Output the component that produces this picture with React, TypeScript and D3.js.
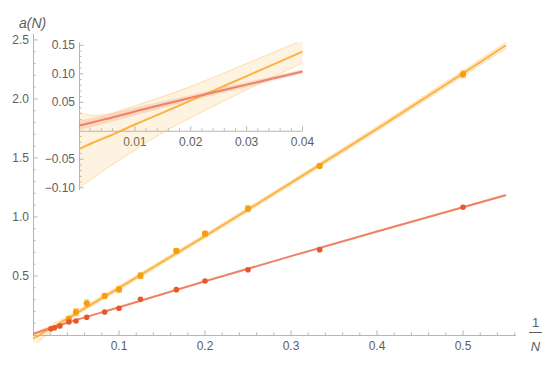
import React, { useEffect, useRef } from 'react'
import * as d3 from 'd3'

// data points, x = 1/N for N = 2, 3, 4, 5, 6, 8, 10, 12, 16, 20, 24, 32, 40, 48
const redX = [0.5, 0.3333, 0.25, 0.2, 0.1667, 0.125, 0.1, 0.0833, 0.0625, 0.05, 0.0417, 0.03125, 0.025, 0.0208]
const redY = [1.082, 0.723, 0.553, 0.458, 0.384, 0.302, 0.226, 0.195, 0.15, 0.119, 0.11, 0.076, 0.062, 0.053]

const orangeX = [0.5, 0.3333, 0.25, 0.2, 0.1667, 0.125, 0.1, 0.0833, 0.0625, 0.05, 0.0417]
const orangeY = [2.209, 1.432, 1.07, 0.858, 0.712, 0.503, 0.386, 0.331, 0.268, 0.194, 0.137]
const orangeErr = [0.03, 0.015, 0.025, 0.02, 0.02, 0.025, 0.025, 0.02, 0.03, 0.03, 0.02]

// fit curves and their bands at these x
const fitX = [0, 0.0025, 0.005, 0.01, 0.015, 0.02, 0.03, 0.04, 0.1, 0.2, 0.3, 0.4, 0.5, 0.55]
const orangeFit = [-0.032, -0.021, -0.011, 0.011, 0.032, 0.053, 0.096, 0.139, 0.399, 0.838, 1.288, 1.747, 2.216, 2.455]
const orangeLo = [-0.1, -0.083, -0.066, -0.034, -0.003, 0.023, 0.072, 0.119, 0.382, 0.822, 1.271, 1.728, 2.194, 2.43]
const orangeHi = [0.033, 0.027, 0.029, 0.044, 0.06, 0.078, 0.118, 0.159, 0.416, 0.854, 1.305, 1.766, 2.238, 2.48]
const redFit = [0.009, 0.015, 0.021, 0.034, 0.046, 0.058, 0.081, 0.104, 0.235, 0.455, 0.668, 0.877, 1.083, 1.185]
const redHalf = [0.0085, 0.008, 0.0075, 0.007, 0.006, 0.005, 0.0045, 0.004, 0.004, 0.005, 0.006, 0.008, 0.01, 0.012]

const mainXTicks = [0.1, 0.2, 0.3, 0.4, 0.5]
const mainYTicks = [0.5, 1.0, 1.5, 2.0, 2.5]
const insetXTicks = [0.01, 0.02, 0.03, 0.04]
const insetYTicks = [-0.1, -0.05, 0.05, 0.1, 0.15]

const ORANGE_PT = '#f59f0f'
const ORANGE_LN = '#fbb443'
const RED_PT = '#e8572c'
const RED_LN = '#ef8265'
const AXIS = '#b5b5b5'
const LABEL = '#5e5e5e'
const FONT = 'Liberation Sans, Arial, sans-serif'

type XY = [number, number]

function minorTicks(lo: number, hi: number, step: number, skip: number[]) {
  const out: number[] = []
  for (let v = lo; v <= hi + 1e-9; v += step) {
    const r = Math.round(v / step) * step
    if (!skip.some((s) => Math.abs(s - r) < step / 10)) out.push(r)
  }
  return out
}

function drawAxes(
  g: d3.Selection<SVGGElement, unknown, null, undefined>,
  x: d3.ScaleLinear<number, number>,
  y: d3.ScaleLinear<number, number>,
  xt: number[],
  yt: number[],
  xMinor: number[],
  yMinor: number[],
  fmt: (n: number) => string
) {
  const [x0, x1] = x.range()
  const [y0, y1] = y.range()
  const ax = g.append('g').attr('stroke', AXIS).attr('stroke-width', 1)
  ax.append('line').attr('x1', x0).attr('x2', x1).attr('y1', y(0) + 0.5).attr('y2', y(0) + 0.5)
  ax.append('line').attr('x1', x(0) + 0.5).attr('x2', x(0) + 0.5).attr('y1', y0).attr('y2', y1)

  xMinor.forEach((v) => {
    ax.append('line').attr('x1', x(v)).attr('x2', x(v)).attr('y1', y(0)).attr('y2', y(0) - 2.5)
  })
  xt.forEach((v) => {
    ax.append('line').attr('x1', x(v)).attr('x2', x(v)).attr('y1', y(0)).attr('y2', y(0) - 4.5)
  })
  yMinor.forEach((v) => {
    ax.append('line').attr('x1', x(0)).attr('x2', x(0) + 2.5).attr('y1', y(v)).attr('y2', y(v))
  })
  yt.forEach((v) => {
    ax.append('line').attr('x1', x(0)).attr('x2', x(0) + 4.5).attr('y1', y(v)).attr('y2', y(v))
  })

  const lab = g.append('g').attr('font-family', FONT).attr('font-size', 12).attr('fill', LABEL)
  xt.forEach((v) => {
    lab.append('text').attr('x', x(v)).attr('y', y(0) + 15).attr('text-anchor', 'middle').text(fmt(v))
  })
  yt.forEach((v) => {
    lab.append('text').attr('x', x(0) - 4).attr('y', y(v) + 4).attr('text-anchor', 'end').text(fmt(v))
  })
}

function drawSeries(
  g: d3.Selection<SVGGElement, unknown, null, undefined>,
  x: d3.ScaleLinear<number, number>,
  y: d3.ScaleLinear<number, number>,
  withPoints: boolean
) {
  const line = d3
    .line<XY>()
    .x((d) => x(d[0]))
    .y((d) => y(d[1]))
    .curve(d3.curveMonotoneX)
  const area = d3
    .area<[number, number, number]>()
    .x((d) => x(d[0]))
    .y0((d) => y(d[1]))
    .y1((d) => y(d[2]))
    .curve(d3.curveMonotoneX)

  const oBand = fitX.map((v, i) => [v, orangeLo[i], orangeHi[i]] as [number, number, number])
  const rBand = fitX.map((v, i) => [v, redFit[i] - redHalf[i], redFit[i] + redHalf[i]] as [number, number, number])

  g.append('path').attr('d', area(oBand)).attr('fill', ORANGE_LN).attr('fill-opacity', 0.16)
  ;[1, 2].forEach((k) => {
    g.append('path')
      .attr('d', line(oBand.map((d) => [d[0], d[k]] as XY)))
      .attr('fill', 'none')
      .attr('stroke', ORANGE_LN)
      .attr('stroke-opacity', 0.3)
      .attr('stroke-width', 1.2)
  })
  g.append('path').attr('d', area(rBand)).attr('fill', RED_LN).attr('fill-opacity', 0.25)

  g.append('path')
    .attr('d', line(fitX.map((v, i) => [v, orangeFit[i]] as XY)))
    .attr('fill', 'none')
    .attr('stroke', ORANGE_LN)
    .attr('stroke-width', 2)
  g.append('path')
    .attr('d', line(fitX.map((v, i) => [v, redFit[i]] as XY)))
    .attr('fill', 'none')
    .attr('stroke', RED_LN)
    .attr('stroke-width', 2)

  if (!withPoints) return

  // error bars on the orange points
  orangeX.forEach((v, i) => {
    const e = orangeErr[i]
    const eb = g.append('g').attr('stroke', ORANGE_LN).attr('stroke-opacity', 0.55)
    eb.append('line')
      .attr('x1', x(v))
      .attr('x2', x(v))
      .attr('y1', y(orangeY[i] - e))
      .attr('y2', y(orangeY[i] + e))
      .attr('stroke-width', 3)
    ;[-e, e].forEach((d) => {
      eb.append('line')
        .attr('x1', x(v) - 3)
        .attr('x2', x(v) + 3)
        .attr('y1', y(orangeY[i] + d))
        .attr('y2', y(orangeY[i] + d))
        .attr('stroke-width', 1.2)
    })
  })
  g.selectAll('circle.o')
    .data(orangeX.map((v, i) => [v, orangeY[i]] as XY))
    .enter()
    .append('circle')
    .attr('class', 'o')
    .attr('cx', (d) => x(d[0]))
    .attr('cy', (d) => y(d[1]))
    .attr('r', 3.1)
    .attr('fill', ORANGE_PT)
  g.selectAll('circle.r')
    .data(redX.map((v, i) => [v, redY[i]] as XY))
    .enter()
    .append('circle')
    .attr('class', 'r')
    .attr('cx', (d) => x(d[0]))
    .attr('cy', (d) => y(d[1]))
    .attr('r', 2.8)
    .attr('fill', RED_PT)
}

export default function App() {
  const ref = useRef<SVGSVGElement>(null)

  useEffect(() => {
    const svg = d3.select(ref.current)
    svg.selectAll('*').remove()
    const root = svg.append('g') as d3.Selection<SVGGElement, unknown, null, undefined>

    // main plot
    const x = d3.scaleLinear().domain([0, 0.5616]).range([33, 516])
    const y = d3.scaleLinear().domain([0, 2.55]).range([335, 34])

    drawAxes(
      root.append('g'),
      x,
      y,
      mainXTicks,
      mainYTicks,
      minorTicks(0.02, 0.56, 0.02, mainXTicks),
      minorTicks(0.1, 2.5, 0.1, mainYTicks),
      d3.format('.1f')
    )

    const defs = svg.append('defs')
    defs.append('clipPath').attr('id', 'mainClip').append('rect').attr('x', 33).attr('y', 30).attr('width', 490).attr('height', 313)

    drawSeries(root.append('g').attr('clip-path', 'url(#mainClip)'), x, y, true)

    // inset
    const ix = d3.scaleLinear().domain([0, 0.04]).range([79, 302.5])
    const iy = d3.scaleLinear().domain([-0.104, 0.155]).range([190, 42.5])

    drawAxes(
      root.append('g'),
      ix,
      iy,
      insetXTicks,
      insetYTicks,
      minorTicks(0.002, 0.04, 0.002, insetXTicks),
      minorTicks(-0.1, 0.15, 0.01, insetYTicks.concat([0])),
      d3.format('.2f')
    )

    defs
      .append('clipPath')
      .attr('id', 'insetClip')
      .append('rect')
      .attr('x', ix(0))
      .attr('y', iy(0.155))
      .attr('width', ix(0.04) - ix(0))
      .attr('height', iy(-0.104) - iy(0.155))

    drawSeries(root.append('g').attr('clip-path', 'url(#insetClip)'), ix, iy, false)

    // axis labels
    const lab = root.append('g').attr('font-family', FONT).attr('fill', LABEL)
    lab.append('text').attr('x', 19).attr('y', 28).attr('font-size', 14).attr('font-style', 'italic').text('a(N)')
    lab.append('text').attr('x', 535.5).attr('y', 327).attr('font-size', 13).attr('text-anchor', 'middle').text('1')
    lab.append('line').attr('x1', 529).attr('x2', 542).attr('y1', 332.5).attr('y2', 332.5).attr('stroke', LABEL).attr('stroke-width', 1)
    lab.append('text').attr('x', 535.5).attr('y', 351).attr('font-size', 13).attr('font-style', 'italic').attr('text-anchor', 'middle').text('N')
  }, [])

  return (
    <svg
      ref={ref}
      width={557}
      height={370}
      style={{ position: 'absolute', left: 0, top: 0, background: '#fff' }}
    />
  )
}
